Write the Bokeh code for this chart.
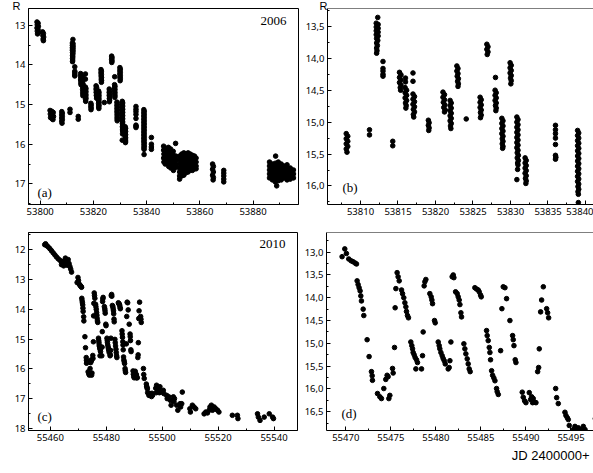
from bokeh.plotting import figure
from bokeh.layouts import column, row
from bokeh.models import (Range1d, FixedTicker, CustomJSTickFormatter, Label, Span, Title,
                          ColumnDataSource, AllLabels)
from bokeh.embed import file_html
from bokeh.resources import INLINE

# ---------------- 2006 light curve (JD 2400000+, R magnitude) ----------------
jd_2006 = [
    53798.8, 53799.2, 53798.9, 53799.3, 53798.8, 53799.2, 53798.9, 53799.3, 53799.0,
    53800.9, 53801.2, 53801.0, 53801.3, 53801.1, 53801.2,
    53803.7, 53804.3, 53804.9, 53803.8, 53804.4, 53805.0, 53803.9, 53804.5, 53804.8,
    53808.1, 53808.3, 53808.1, 53808.3, 53808.1, 53808.3, 53808.1, 53808.2,
    53811.2, 53811.2,
    53812.3, 53812.1, 53812.35, 53812.1, 53812.35, 53812.1, 53812.35, 53812.1, 53812.35,
    53812.15, 53812.3, 53812.15, 53812.25, 53812.15, 53812.2, 53812.15,
    53813.0, 53813.0, 53813.0, 53813.0, 53813.0,
    53814.3, 53814.3,
    53815.2, 53815.4, 53815.2, 53815.4, 53815.2, 53815.4, 53815.3, 53815.35,
    53816.0, 53816.0, 53815.95, 53816.15, 53815.95, 53816.15, 53815.95, 53816.15, 53816.0, 53816.1, 53816.05,
    53817.0, 53817.0, 53817.0, 53817.2, 53817.0, 53817.2, 53817.0, 53817.2, 53817.05, 53817.2, 53817.05, 53817.1,
    53819.05, 53819.15, 53819.05, 53819.15, 53819.1,
    53821.0, 53821.2, 53821.0, 53821.2, 53821.05, 53821.25, 53821.1, 53821.3, 53821.2,
    53821.95, 53822.1, 53821.95, 53822.1, 53821.95, 53822.1, 53821.95, 53822.1, 53821.95, 53822.1, 53822.0, 53822.05,
    53822.85, 53823.0, 53822.85, 53823.0, 53822.9, 53823.05, 53822.95, 53823.05, 53823.0,
    53824.1,
    53825.95, 53826.1, 53825.95, 53826.1, 53825.95, 53826.1, 53826.0, 53826.1, 53826.0,
    53826.85, 53827.0, 53826.85, 53827.0, 53826.9,
    53828.0, 53827.95, 53828.1, 53827.95, 53828.1, 53827.95, 53828.1, 53828.0, 53828.1, 53828.05,
    53828.85, 53829.0, 53828.85, 53829.0, 53828.85, 53829.0, 53828.85, 53829.0, 53828.9, 53829.0, 53828.9, 53829.0, 53828.95,
    53829.95, 53830.1, 53829.95, 53830.1, 53829.95, 53830.1, 53830.0, 53830.1, 53830.05,
    53830.85, 53831.0, 53830.85, 53831.0, 53830.85, 53831.0, 53830.85, 53831.0, 53830.85, 53831.0, 53830.85,
    53831.0, 53830.85, 53831.0, 53830.9, 53831.05, 53830.9, 53831.05, 53830.95, 53831.0, 53830.95, 53830.85,
    53831.95, 53832.1, 53831.95, 53832.1, 53831.95, 53832.1, 53831.95, 53832.1, 53832.0, 53832.1, 53832.05,
    53836.0, 53836.0, 53836.0, 53836.0, 53836.0, 53836.0, 53836.05, 53836.0,
    53838.95, 53839.1, 53838.95, 53839.1, 53838.95, 53839.1, 53838.95, 53839.1, 53838.95, 53839.1,
    53838.95, 53839.1, 53838.95, 53839.1, 53838.95, 53839.1, 53838.95, 53839.1, 53838.95, 53839.1,
    53838.95, 53839.1, 53839.0, 53839.1, 53839.0, 53839.05, 53839.05,
    53841.8, 53841.8, 53841.8, 53841.8,
    53846.4, 53846.4, 53846.5, 53846.4, 53846.5,
    53847.0, 53847.1, 53847.0, 53847.1, 53847.0,
    53848.2, 53848.3, 53848.2, 53848.3, 53848.2, 53848.3,
    53849.0, 53849.1, 53849.0, 53849.1, 53849.0, 53849.1,
    53850.0, 53850.1, 53850.0, 53850.1, 53850.0, 53850.1,
    53850.9, 53851.0, 53851.1, 53851.0, 53851.1,
    53852.4, 53852.4, 53852.4, 53852.4, 53852.4, 53852.4, 53852.4,
    53853.2, 53853.2, 53853.2, 53853.2, 53853.2, 53853.2, 53853.2, 53853.2,
    53854.0, 53854.0, 53854.0, 53854.0, 53854.0, 53854.0, 53854.0, 53854.0,
    53854.8, 53854.8, 53854.8, 53854.8, 53854.8, 53854.8, 53854.8,
    53855.6, 53855.6, 53855.6, 53855.6, 53855.6, 53855.6, 53855.6,
    53856.4, 53856.4, 53856.4, 53856.4, 53856.4, 53856.4,
    53857.2, 53857.2, 53857.2, 53857.2, 53857.2, 53857.2,
    53858.0, 53858.0, 53858.0, 53858.0, 53858.0,
    53858.6, 53858.6, 53858.6, 53858.6,
    53864.8, 53865.1, 53864.8, 53865.1, 53864.8, 53865.1, 53865.0,
    53869.0, 53869.0, 53869.0, 53869.0, 53869.0,
    53888.5, 53888.9,
    53886.2, 53886.2, 53886.2, 53886.2, 53886.2,
    53887.3, 53887.3, 53887.3, 53887.3, 53887.3,
    53888.4, 53888.4, 53888.4, 53888.4, 53888.4, 53888.4,
    53889.5, 53889.5, 53889.5, 53889.5, 53889.5, 53889.5,
    53890.6, 53890.6, 53890.6, 53890.6, 53890.6,
    53891.7, 53891.7, 53891.7, 53891.7,
    53892.8, 53892.8, 53892.8, 53892.8, 53892.8,
    53894.0, 53894.0, 53894.0, 53894.0,
    53895.2, 53895.2, 53895.2,
]
r_2006 = [
    12.92, 12.95, 12.99, 13.03, 13.07, 13.11, 13.15, 13.19, 13.22,
    13.17, 13.21, 13.26, 13.30, 13.35, 13.39,
    15.15, 15.17, 15.20, 15.24, 15.27, 15.30, 15.33, 15.36, 15.38,
    15.18, 15.22, 15.26, 15.30, 15.34, 15.38, 15.42, 15.47,
    15.12, 15.20,
    13.36, 13.45, 13.47, 13.51, 13.53, 13.57, 13.59, 13.63, 13.65,
    13.69, 13.72, 13.76, 13.80, 13.84, 13.88, 13.92,
    14.05, 14.16, 14.20, 14.25, 14.28,
    15.30, 15.37,
    14.22, 14.26, 14.30, 14.34, 14.38, 14.42, 14.46, 14.50,
    14.31, 14.37, 14.46, 14.50, 14.54, 14.58, 14.62, 14.66, 14.70, 14.74, 14.78,
    14.23, 14.36, 14.56, 14.60, 14.64, 14.68, 14.72, 14.76, 14.80, 14.84, 14.88, 14.92,
    14.97, 15.01, 15.05, 15.09, 15.13,
    14.53, 14.57, 14.61, 14.65, 14.69, 14.73, 14.77, 14.81, 14.84,
    14.66, 14.70, 14.74, 14.78, 14.82, 14.86, 14.90, 14.94, 14.98, 15.02, 15.06, 15.10,
    14.12, 14.16, 14.20, 14.24, 14.28, 14.32, 14.36, 14.40, 14.44,
    14.95,
    14.61, 14.65, 14.69, 14.73, 14.77, 14.81, 14.85, 14.89, 14.93,
    13.78, 13.82, 13.86, 13.90, 13.94,
    14.30, 14.50, 14.54, 14.58, 14.62, 14.66, 14.70, 14.74, 14.78, 14.82,
    14.94, 14.98, 15.02, 15.06, 15.10, 15.14, 15.18, 15.22, 15.26, 15.30, 15.34, 15.38, 15.41,
    14.07, 14.11, 14.15, 14.19, 14.23, 14.27, 14.31, 14.35, 14.40,
    14.92, 14.96, 15.00, 15.04, 15.08, 15.12, 15.16, 15.20, 15.24, 15.28, 15.32,
    15.36, 15.40, 15.44, 15.48, 15.52, 15.56, 15.60, 15.64, 15.67, 15.74, 15.90,
    15.56, 15.60, 15.64, 15.68, 15.72, 15.76, 15.80, 15.84, 15.88, 15.92, 15.96,
    15.05, 15.12, 15.18, 15.25, 15.35, 15.52, 15.55, 15.58,
    15.13, 15.17, 15.21, 15.25, 15.29, 15.33, 15.37, 15.41, 15.45, 15.49,
    15.53, 15.57, 15.61, 15.65, 15.69, 15.73, 15.77, 15.81, 15.85, 15.89,
    15.93, 15.97, 16.01, 16.05, 16.09, 16.13, 16.26,
    15.83, 16.00, 16.07, 16.13,
    16.05, 16.15, 16.25, 16.35, 16.45,
    16.10, 16.20, 16.30, 16.40, 16.50,
    16.08, 16.18, 16.28, 16.38, 16.48, 16.56,
    16.12, 16.22, 16.32, 16.42, 16.52, 16.60,
    16.18, 16.28, 16.38, 16.48, 16.58, 16.66,
    15.98, 16.30, 16.40, 16.50, 16.58,
    16.30, 16.40, 16.50, 16.60, 16.70, 16.80, 16.88,
    16.25, 16.33, 16.41, 16.49, 16.57, 16.65, 16.73, 16.80,
    16.22, 16.30, 16.38, 16.46, 16.54, 16.62, 16.70, 16.78,
    16.24, 16.32, 16.40, 16.48, 16.56, 16.64, 16.72,
    16.22, 16.30, 16.38, 16.46, 16.54, 16.62, 16.70,
    16.25, 16.33, 16.41, 16.49, 16.57, 16.65,
    16.28, 16.36, 16.44, 16.52, 16.60, 16.66,
    16.30, 16.38, 16.46, 16.54, 16.62,
    16.35, 16.45, 16.55, 16.62,
    16.50, 16.56, 16.63, 16.70, 16.78, 16.84, 16.90,
    16.66, 16.73, 16.80, 16.88, 16.95,
    16.30, 17.05,
    16.45, 16.55, 16.65, 16.75, 16.85,
    16.50, 16.60, 16.70, 16.80, 16.90,
    16.48, 16.58, 16.68, 16.78, 16.88, 16.95,
    16.45, 16.55, 16.65, 16.75, 16.85, 16.92,
    16.50, 16.60, 16.70, 16.80, 16.90,
    16.55, 16.65, 16.75, 16.85,
    16.52, 16.62, 16.72, 16.82, 16.90,
    16.60, 16.70, 16.80, 16.88,
    16.65, 16.75, 16.85,
]

# ---------------- 2010 light curve ----------------
jd_2010 = [
    55458.0, 55458.3, 55458.7, 55459.2, 55459.8, 55460.4, 55461.0, 55461.6, 55462.2, 55462.8,
    55463.4, 55464.0, 55464.0, 55464.5, 55464.8, 55465.1, 55465.4, 55465.8, 55466.1, 55466.4,
    55466.7, 55467.0, 55467.3, 55467.6,
    55469.59, 55469.89, 55470.07, 55470.33, 55470.59, 55470.81, 55471.04, 55471.19,
    55471.26, 55471.37, 55471.48, 55471.59, 55471.67, 55471.74, 55471.93, 55472.00,
    55472.37, 55472.59, 55472.85, 55472.93, 55472.96,
    55473.52, 55473.78, 55473.96, 55474.22, 55474.44, 55474.59, 55474.70, 55474.78, 55474.89,
    55475.19, 55475.26, 55475.41, 55475.48, 55475.56, 55475.70, 55475.81, 55475.93,
    55476.19, 55476.30, 55476.44, 55476.56, 55476.67, 55476.74, 55476.85, 55476.96,
    55477.22, 55477.33, 55477.41, 55477.48, 55477.59, 55477.70, 55477.85, 55477.96, 55477.78,
    55478.41, 55478.52, 55478.59, 55478.70, 55478.78, 55478.89,
    55479.33, 55479.48, 55479.56, 55479.63, 55479.85, 55479.93,
    55480.26, 55480.37, 55480.44, 55480.56, 55480.70, 55480.81, 55480.93, 55481.04,
    55481.37, 55481.48, 55481.56, 55481.67,
    55481.81, 55481.93, 55482.00,
    55482.19, 55482.37, 55482.48, 55482.59, 55482.67, 55482.78, 55482.85,
    55483.11, 55483.22, 55483.33, 55483.48, 55483.59, 55483.70, 55483.81,
    55484.33, 55484.52, 55484.70, 55484.81, 55484.96, 55485.04,
    55485.63, 55485.70, 55485.81, 55485.93, 55486.00, 55486.07,
    55486.19, 55486.30, 55486.44, 55486.56, 55486.74, 55486.81, 55486.93,
    55487.19, 55487.33, 55487.48, 55487.67, 55487.85, 55488.22,
    55488.52, 55488.59, 55488.67, 55488.81, 55488.89,
    55489.59, 55489.70, 55489.85, 55490.00,
    55490.37, 55490.52, 55490.63, 55490.74, 55490.81, 55490.93, 55491.11,
    55491.30, 55491.41, 55491.48, 55491.63, 55491.74, 55491.93,
    55492.30, 55492.41, 55492.52,
    55493.30, 55493.41, 55493.59,
    55494.33, 55494.44, 55494.59, 55494.70, 55494.81,
    55495.26, 55495.44, 55495.63, 55495.81, 55496.00, 55496.19, 55496.37, 55496.56,
    55497.7, 55497.9, 55498.0, 55498.3, 55498.5, 55498.8, 55499.0, 55499.2, 55499.4, 55500.4,
    55500.6, 55501.6, 55501.8, 55502.4, 55503.0, 55503.2, 55504.0, 55504.2, 55504.4, 55505.2,
    55505.6, 55506.4, 55506.6, 55507.0, 55507.2,
    55509.9, 55510.1, 55510.8, 55511.4, 55512.0,
    55515.0, 55515.6, 55516.2, 55516.8, 55517.1, 55517.6, 55518.0, 55518.6, 55519.2, 55519.8, 55520.3,
    55525.1, 55526.9, 55527.1,
    55534.1, 55534.4, 55535.0, 55536.5, 55538.3, 55539.5, 55539.8,
]
r_2010 = [
    11.83, 11.80, 11.86, 11.90, 11.96, 12.03, 12.10, 12.17, 12.24, 12.30,
    12.35, 12.40, 12.50, 12.45, 12.54, 12.36, 12.28, 12.40, 12.52, 12.33,
    12.46, 12.56, 12.65, 12.75,
    13.10, 12.93, 13.03, 13.15, 13.19, 13.21, 13.24, 13.26,
    13.63, 13.71, 13.78, 13.85, 13.96, 14.07, 14.25, 14.39,
    14.92, 15.29, 15.62, 15.71, 15.81,
    16.10, 16.17, 16.21, 15.99, 15.79, 15.70, 15.73, 16.21, 16.14,
    15.55, 15.65, 15.09, 14.22, 13.80, 13.45, 13.54, 13.63,
    13.83, 13.91, 14.00, 14.11, 14.20, 14.30, 14.39, 14.44,
    14.97, 15.05, 15.12, 15.20, 15.25, 15.31, 15.36, 15.42, 15.56,
    15.56, 15.27, 14.75, 13.74, 13.65, 13.60,
    13.91, 13.98, 14.05, 14.13, 14.50, 14.55,
    14.97, 15.05, 15.12, 15.20, 15.27, 15.33, 15.38, 15.45,
    15.56, 15.53, 15.38, 14.97,
    13.54, 13.50, 13.56,
    13.87, 13.91, 13.98, 14.05, 14.15, 14.33, 14.42,
    15.01, 15.12, 15.23, 15.34, 15.45, 15.56, 15.62,
    13.78, 13.81, 13.83, 13.87, 13.94, 13.98,
    14.72, 14.83, 14.94, 15.09, 15.20, 15.36,
    15.60, 15.70, 15.76, 15.82, 15.99, 16.06, 16.12,
    15.16, 14.24, 13.76, 13.78, 14.02, 14.50,
    14.83, 14.92, 15.05, 15.36, 15.42,
    16.07, 16.18, 16.26, 16.30,
    16.08, 16.23, 16.17, 16.30, 16.21, 16.29, 16.30,
    15.62, 15.53, 15.12, 14.31, 14.05, 13.76,
    14.24, 14.33, 14.44,
    15.99, 16.19, 16.32,
    16.51, 16.58, 16.63, 16.67, 16.80,
    16.89, 16.82, 16.89, 16.85, 16.89, 16.93, 16.82, 16.89,
    16.65, 16.80, 16.55, 16.62, 16.72, 16.68, 16.80, 16.60, 16.78, 16.72,
    16.83, 16.89, 17.00, 16.94, 17.06, 17.22, 16.94, 17.10, 17.00, 17.22,
    17.39, 17.17, 17.28, 17.17, 16.78,
    17.34, 17.45, 17.22, 17.28, 17.34,
    17.51, 17.45, 17.48, 17.39, 17.28, 17.22, 17.39, 17.28, 17.34, 17.39, 17.45,
    17.56, 17.56, 17.67,
    17.51, 17.62, 17.73, 17.62, 17.51, 17.62, 17.67,
]

# ---------------- axes ----------------
xticks_a = [53800, 53820, 53840, 53860, 53880]
xminor_a = [53810, 53830, 53850, 53870, 53890]
yticks_a = [13, 14, 15, 16, 17]
yminor_a = [13.5, 14.5, 15.5, 16.5, 17.5]

xticks_b = [53810, 53815, 53820, 53825, 53830, 53835, 53840]
xminor_b = [53807.5, 53812.5, 53817.5, 53822.5, 53827.5, 53832.5, 53837.5]
yticks_b = [13.5, 14.0, 14.5, 15.0, 15.5, 16.0]
yminor_b = [13.25, 13.75, 14.25, 14.75, 15.25, 15.75, 16.25]

xticks_c = [55460, 55480, 55500, 55520, 55540]
xminor_c = [55470, 55490, 55510, 55530]
yticks_c = [12, 13, 14, 15, 16, 17, 18]
yminor_c = [11.5, 12.5, 13.5, 14.5, 15.5, 16.5, 17.5]

xticks_d = [55470, 55475, 55480, 55485, 55490, 55495]
xminor_d = [55472.5, 55477.5, 55482.5, 55487.5, 55492.5]
yticks_d = [13.0, 13.5, 14.0, 14.5, 15.0, 15.5, 16.0, 16.5]
yminor_d = [12.75, 13.25, 13.75, 14.25, 14.75, 15.25, 15.75, 16.25, 16.75]

y_title = "R"
x_title = "JD 2400000+"

assert len(jd_2006) == len(r_2006)
assert len(jd_2010) == len(r_2010)

src_2006 = ColumnDataSource(dict(jd=jd_2006, r=r_2006))
src_2010 = ColumnDataSource(dict(jd=jd_2010, r=r_2010))

TICK_FONT = "Noto Sans"
TICK_SIZE = "9.5px"
SERIF = "Liberation Serif"
SANS = "Liberation Sans"


def panel(width, height, xr, yr, borders, xt, xm, yt, ym, comma, outline, src):
    p = figure(width=width, height=height,
               x_range=Range1d(xr[0], xr[1]), y_range=Range1d(yr[1], yr[0]),
               output_backend="svg", toolbar_location=None,
               min_border_left=borders[0], min_border_right=borders[1],
               min_border_top=borders[2], min_border_bottom=borders[3])
    p.xgrid.visible = False
    p.ygrid.visible = False
    p.background_fill_color = "white"
    p.border_fill_color = "white"
    p.outline_line_color = "black" if outline else None
    p.outline_line_width = 1
    p.xaxis.ticker = FixedTicker(ticks=xt, minor_ticks=xm)
    p.yaxis.ticker = FixedTicker(ticks=yt, minor_ticks=ym)
    if comma:
        p.yaxis.formatter = CustomJSTickFormatter(code="return tick.toFixed(1).replace('.', ',');")
    for ax in (p.xaxis[0], p.yaxis[0]):
        ax.major_label_policy = AllLabels()
        ax.major_tick_in = 4
        ax.major_tick_out = 0
        ax.minor_tick_in = 2
        ax.minor_tick_out = 0
        ax.axis_line_color = "black"
        ax.major_tick_line_color = "black"
        ax.minor_tick_line_color = "black"
        ax.major_label_text_font = TICK_FONT
        ax.major_label_text_font_size = TICK_SIZE
        ax.major_label_text_color = "black"
        ax.major_label_standoff = 3
    p.scatter(x="jd", y="r", source=src, size=4.6, color="black")
    if not outline:
        p.add_layout(Span(location=yr[0], dimension="width", line_color="black", line_width=1))
    return p


def lab(p, x, y, text, dx, dy, align, base, font, size):
    p.add_layout(Label(x=x, y=y, text=text, x_offset=dx, y_offset=dy,
                       text_align=align, text_baseline=base,
                       text_font=font, text_font_size=size, text_color="black"))


def r_title(p, offset):
    # negative standoff lets the "R" sit beside the top of the frame, as in the original
    p.add_layout(Title(text=y_title, align="left", offset=offset, standoff=-6,
                       text_font=SANS, text_font_size="11px", text_font_style="normal",
                       text_color="black"), "above")


xr_a, yr_a = (53795.6, 53897.1), (12.58, 17.52)
xr_b, yr_b = (53805.6, 53841.07), (13.22, 16.29)
xr_c, yr_c = (55452.2, 55548.4), (11.42, 18.07)
xr_d, yr_d = (55467.86, 55497.5), (12.57, 16.91)

pa = panel(300, 230, xr_a, yr_a, (28, 2, 5, 26), xticks_a, xminor_a, yticks_a, yminor_a, False, True, src_2006)
pb = panel(293, 230, xr_b, yr_b, (27, 0, 5, 26), xticks_b, xminor_b, yticks_b, yminor_b, True, False, src_2006)
pc = panel(300, 243, xr_c, yr_c, (28, 3, 2, 43), xticks_c, xminor_c, yticks_c, yminor_c, False, True, src_2010)
pd = panel(293, 243, xr_d, yr_d, (26, 0, 2, 43), xticks_d, xminor_d, yticks_d, yminor_d, True, False, src_2010)

r_title(pa, -16)
r_title(pb, -8)

# for a right-aligned title, a positive offset moves the text to the left
pd.add_layout(Title(text=x_title, align="right", text_font=SANS, text_font_size="13px",
                    text_font_style="normal", text_color="black", standoff=4, offset=4), "below")

lab(pa, xr_a[1], yr_a[0], "2006", -12, -8, "right", "top", SERIF, "13px")
lab(pc, xr_c[1], yr_c[0], "2010", -12, -7, "right", "top", SERIF, "13px")
lab(pa, xr_a[0], yr_a[1], "(a)", 9, 5, "left", "bottom", SERIF, "13px")
lab(pb, xr_b[0], yr_b[1], "(b)", 15, 10, "left", "bottom", SERIF, "13px")
lab(pc, xr_c[0], yr_c[1], "(c)", 9, 7, "left", "bottom", SERIF, "13px")
lab(pd, xr_d[0], yr_d[1], "(d)", 15, 10, "left", "bottom", SERIF, "13px")

layout = column(row(pa, pb), row(pc, pd))
open("out.html", "w").write(file_html(layout, INLINE))
